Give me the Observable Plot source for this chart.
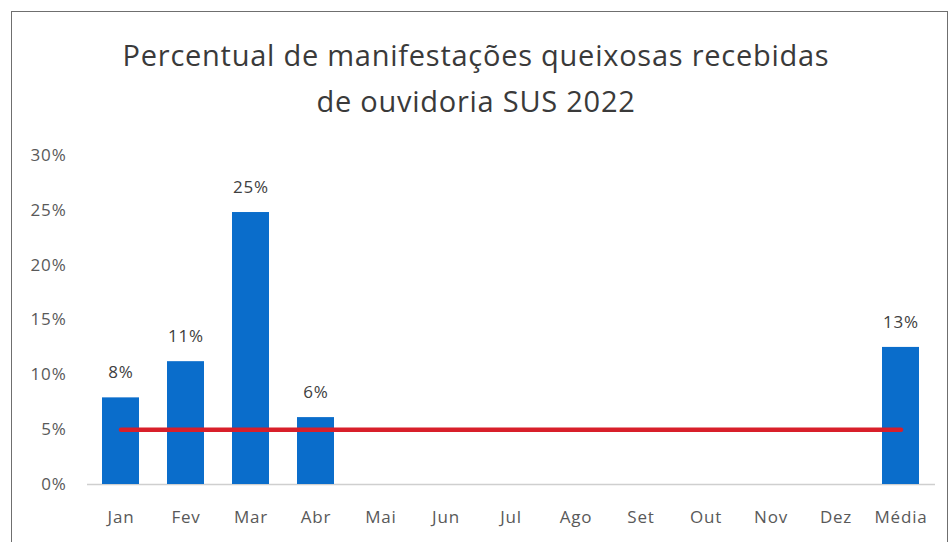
<!DOCTYPE html>
<html>
<head>
<meta charset="utf-8">
<script src="https://cdn.jsdelivr.net/npm/d3@7"></script>
<script src="https://cdn.jsdelivr.net/npm/@observablehq/plot@0.6"></script>
<style>
  html, body { margin: 0; padding: 0; background: #fff; }
  #wrap { position: relative; width: 952px; height: 542px; overflow: hidden; background: #fff; }
  #frame { position: absolute; left: 11px; top: 11px; width: 937px; height: 540px; border: 1.5px solid #6f6f6f; box-sizing: border-box; }
  #title { position: absolute; left: 0; width: 952px; top: 32px; text-align: center;
           font-family: "Open Sans", Lato, sans-serif; font-size: 29px; line-height: 46px; color: #3a3a3a; letter-spacing: 0.75px; }
  #chart { position: absolute; left: 0; top: 0; }
</style>
</head>
<body>
<div id="wrap">
  <div id="frame"></div>
  <div id="chart"></div>
  <div id="title">Percentual de manifestações queixosas recebidas<br>de ouvidoria SUS 2022</div>
</div>
<script>
const categories = ["Jan","Fev","Mar","Abr","Mai","Jun","Jul","Ago","Set","Out","Nov","Dez","Média"];
const values = [7.9, 11.2, 24.8, 6.1, null, null, null, null, null, null, null, null, 12.5];
const target = 5;
const yTicks = [0, 5, 10, 15, 20, 25, 30];

const data = categories.map((c, i) => ({cat: c, value: values[i]}));
const bars = data.filter(d => d.value != null);
const targetLine = categories.map(c => ({cat: c, value: target}));

const chart = Plot.plot({
  width: 952,
  height: 542,
  marginTop: 155,
  marginBottom: 58,
  marginLeft: 87,
  marginRight: 17,
  style: {fontFamily: "'Open Sans', Lato, sans-serif", fontSize: "17px", color: "#595959", background: "transparent", letterSpacing: "0.8px"},
  x: {domain: categories, paddingInner: 0.43, paddingOuter: 0.22, label: null, tickSize: 0, tickPadding: 26},
  y: {domain: [0, 30], ticks: yTicks, tickFormat: d => d + "%", label: null, tickSize: 0, tickPadding: 21},
  marks: [
    Plot.ruleY([0], {stroke: "#cfcfcf", strokeWidth: 1.5}),
    Plot.barY(bars, {x: "cat", y: "value", fill: "#0a6dcb"}),
    Plot.text(bars, {x: "cat", y: "value", text: d => Math.round(d.value) + "%", dy: -25, fill: "#404040", fontSize: 17}),
    Plot.line(targetLine, {x: "cat", y: "value", stroke: "#d81f2a", strokeWidth: 4.5})
  ]
});
document.getElementById("chart").appendChild(chart);
</script>
</body>
</html>
